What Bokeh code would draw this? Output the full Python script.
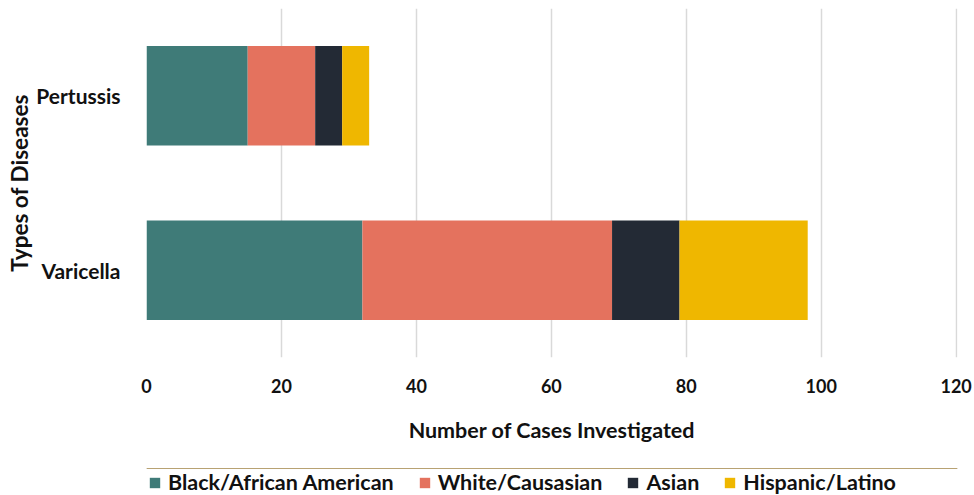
from bokeh.plotting import figure
from bokeh.layouts import column
from bokeh.models import Legend, LegendItem, FixedTicker
from bokeh.embed import file_html
from bokeh.resources import INLINE

diseases = ["Varicella", "Pertussis"]
groups = ["Black/African American", "White/Causasian", "Asian", "Hispanic/Latino"]
black = [32, 15]
white = [37, 10]
asian = [10, 4]
hispanic = [19, 4]
colors = ["#3f7b78", "#e4725e", "#232a35", "#efb700"]
x_ticks = [0, 20, 40, 60, 80, 100, 120]

FONT = "Lato"
INK = "#111111"

p = figure(y_range=diseases, x_range=(0, 120.2), frame_width=811, frame_height=349,
           output_backend="svg", toolbar_location=None,
           min_border_left=146, min_border_right=17, min_border_top=8, min_border_bottom=111)

series = [black, white, asian, hispanic]
data = {"disease": diseases}
for g, s in zip(groups, series):
    data[g] = s

p.hbar_stack(groups, y="disease", height=0.57, color=colors, source=data, line_color=None)

p.y_range.range_padding = 0
p.outline_line_color = None

p.xaxis.ticker = FixedTicker(ticks=x_ticks)
p.xaxis.axis_line_color = None
p.xaxis.major_tick_line_color = None
p.xaxis.minor_tick_line_color = None
p.xaxis.major_label_text_font = FONT
p.xaxis.major_label_text_font_style = "bold"
p.xaxis.major_label_text_font_size = "18px"
p.xaxis.major_label_text_color = INK
p.xaxis.major_label_standoff = 15
p.xaxis.axis_label = "Number of Cases Investigated"
p.xaxis.axis_label_text_font = FONT
p.xaxis.axis_label_text_font_style = "bold"
p.xaxis.axis_label_text_font_size = "21.5px"
p.xaxis.axis_label_text_color = INK
p.xaxis.axis_label_standoff = 21

p.yaxis.axis_line_color = None
p.yaxis.major_tick_line_color = None
p.yaxis.minor_tick_line_color = None
p.yaxis.major_label_text_font = FONT
p.yaxis.major_label_text_font_style = "bold"
p.yaxis.major_label_text_font_size = "21px"
p.yaxis.major_label_text_color = INK
p.yaxis.major_label_standoff = 20
p.yaxis.axis_label = "Types of Diseases"
p.yaxis.axis_label_text_font = FONT
p.yaxis.axis_label_text_font_style = "bold"
p.yaxis.axis_label_text_font_size = "22.5px"
p.yaxis.axis_label_text_color = INK
p.yaxis.axis_label_standoff = 0

p.ygrid.grid_line_color = None
p.xgrid.grid_line_color = "#d9d9d9"
p.xgrid.grid_line_width = 1.5

# legend strip: a bare figure whose frame holds only the horizontal legend row;
# the swatch renderers sit outside its visible range so only the legend shows
key = figure(width=974, height=27, x_range=(0, 1), y_range=(0, 1),
             output_backend="svg", toolbar_location=None,
             x_axis_location=None, y_axis_location=None, min_border=0)
key.outline_line_color = None
key.xgrid.visible = False
key.ygrid.visible = False
swatches = [key.hbar(y=[5], left=[0], right=[1], height=0.5, color=c, line_color=None)
            for c in colors]

legend = Legend(items=[LegendItem(label=g, renderers=[r]) for g, r in zip(groups, swatches)],
                orientation="horizontal", location=(2, 0),
                label_text_font=FONT, label_text_font_style="bold",
                label_text_font_size="21.5px", label_text_color=INK,
                glyph_width=13, glyph_height=13, spacing=24, label_standoff=7,
                border_line_color=None, background_fill_alpha=0, padding=0, margin=0)
key.add_layout(legend)

layout = column(p, key, spacing=0)

open("out.html", "w").write(file_html(layout, INLINE))
